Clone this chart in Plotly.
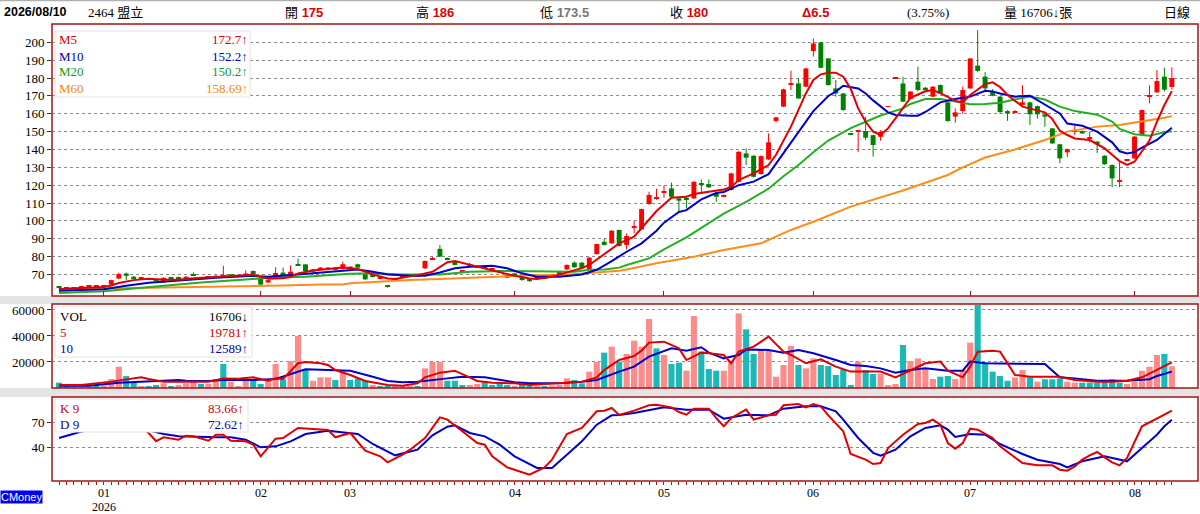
import plotly.graph_objects as go

W, H = 1200, 514

# ---------------------------------------------------------------- data
# one entry per trading day, 2025-12-24 .. 2026-08-10
OPEN = [62.6, 62.4, 62.2, 62.5, 63.0, 63.1, 63.0, 64.3, 67.7, 70.5,
        68.7, 67.5, 67.6, 67.2, 65.5, 68.0, 67.8, 67.2, 69.6, 67.9,
        68.0, 68.1, 68.6, 70.0, 68.7, 69.6, 71.9, 67.7, 65.5, 68.1,
        71.0, 69.7, 75.3, 75.6, 71.5, 72.5, 72.6, 73.8, 73.0, 73.0,
        75.7, 70.6, 68.8, 67.5, 63.1, 67.4, 68.1, 68.8, 70.0, 73.4,
        78.6, 84.3, 78.8, 77.2, 71.8, 75.6, 74.0, 73.4, 73.0, 71.0,
        69.6, 70.6, 68.1, 67.7, 67.8, 68.5, 69.5, 70.5, 72.8, 76.6,
        76.6, 72.8, 81.4, 88.3, 87.4, 94.9, 86.5, 96.5, 95.2, 109.4,
        112.4, 115.8, 118.2, 112.6, 112.6, 112.6, 120.8, 120.6, 115.4, 113.5,
        117.3, 121.9, 137.8, 136.5, 126.2, 134.4, 156.0, 164.0, 176.5, 177.0,
        175.2, 195.1, 200.0, 191.0, 174.2, 171.4, 148.8, 150.2, 150.3, 148.0,
        147.1, 163.8, 179.6, 177.0, 168.3, 178.0, 174.6, 169.6, 176.1, 166.4,
        158.4, 161.5, 174.2, 187.0, 180.8, 172.7, 169.6, 161.5, 160.8, 165.0,
        166.4, 164.3, 159.7, 151.8, 142.9, 138.4, 150.3, 150.3, 146.4, 144.4,
        136.5, 131.3, 122.0, 133.9, 135.0, 148.1, 169.6, 172.0, 180.8, 175.0]
HIGH = [63.2, 62.8, 62.7, 63.6, 63.8, 63.6, 63.8, 67.0, 71.0, 71.0,
        69.0, 68.0, 67.9, 67.5, 68.3, 68.3, 68.7, 69.0, 71.1, 68.5,
        68.6, 69.6, 74.9, 70.3, 69.9, 72.3, 72.2, 68.0, 67.0, 74.0,
        73.8, 75.0, 78.9, 75.9, 73.0, 74.0, 74.1, 74.1, 77.1, 74.6,
        76.0, 70.9, 69.5, 68.8, 64.0, 68.2, 69.4, 69.8, 70.3, 77.8,
        79.8, 86.5, 79.5, 77.5, 72.5, 76.5, 74.6, 74.0, 73.6, 72.6,
        69.9, 70.9, 68.4, 68.0, 68.6, 68.8, 70.4, 71.0, 75.6, 77.3,
        76.9, 79.8, 87.3, 90.0, 94.8, 95.2, 93.0, 100.0, 106.9, 116.3,
        118.0, 119.7, 121.4, 113.0, 113.5, 122.2, 123.2, 123.2, 115.7, 114.8,
        126.9, 139.0, 140.6, 136.8, 136.6, 149.0, 158.3, 174.0, 184.1, 179.8,
        185.7, 202.2, 200.3, 191.3, 178.9, 171.7, 149.2, 150.6, 158.4, 148.3,
        150.8, 164.3, 180.1, 180.8, 172.7, 186.4, 175.0, 175.5, 176.4, 166.7,
        163.0, 175.2, 191.3, 206.9, 183.3, 173.8, 170.0, 162.0, 162.0, 176.0,
        166.8, 164.6, 160.1, 152.1, 143.2, 140.5, 153.2, 150.6, 150.0, 144.7,
        136.8, 131.6, 134.0, 134.7, 147.5, 162.4, 176.0, 184.5, 185.8, 186.0]
LOW = [62.0, 61.9, 61.9, 62.3, 62.8, 62.8, 62.8, 64.0, 67.3, 66.8,
       67.2, 67.2, 66.9, 66.6, 65.3, 67.4, 67.5, 67.0, 69.3, 67.6,
       67.8, 67.9, 68.4, 68.8, 68.4, 69.3, 69.8, 64.0, 65.2, 67.8,
       69.5, 69.5, 74.8, 71.7, 71.2, 72.2, 72.3, 72.3, 72.8, 72.8,
       73.5, 67.0, 68.3, 67.2, 62.5, 67.1, 67.9, 68.5, 68.6, 73.1,
       78.2, 79.6, 78.0, 75.0, 71.5, 74.0, 73.8, 73.1, 72.8, 70.8,
       67.8, 69.0, 66.5, 65.9, 67.5, 67.6, 69.2, 70.0, 72.5, 73.7,
       73.2, 72.5, 81.1, 86.2, 87.1, 85.6, 84.0, 93.0, 94.9, 109.1,
       111.8, 113.0, 113.2, 105.0, 107.0, 112.3, 115.4, 118.5, 110.7, 113.2,
       117.0, 121.6, 131.3, 124.4, 125.9, 134.1, 155.0, 163.7, 173.3, 168.3,
       174.9, 192.0, 185.5, 175.8, 169.6, 161.6, 148.3, 138.7, 145.3, 136.0,
       144.9, 163.6, 179.4, 166.5, 168.0, 172.5, 173.0, 169.3, 171.1, 155.6,
       155.0, 160.0, 173.9, 183.5, 172.6, 169.8, 160.0, 156.0, 160.5, 164.6,
       153.7, 157.3, 152.7, 143.1, 132.2, 135.8, 148.0, 148.7, 144.0, 138.0,
       131.4, 118.8, 118.8, 133.2, 134.7, 147.8, 165.8, 171.7, 172.5, 173.5]
CLOSE = [62.5, 62.3, 62.5, 63.3, 63.4, 63.3, 63.5, 66.8, 70.2, 69.2,
         67.4, 67.7, 67.2, 66.8, 68.1, 67.6, 67.7, 68.7, 69.5, 68.1,
         68.3, 69.2, 68.8, 69.0, 69.6, 70.5, 70.0, 64.3, 66.8, 70.8,
         69.7, 71.5, 75.0, 71.9, 72.8, 73.8, 73.8, 72.5, 75.7, 74.3,
         73.8, 67.2, 68.7, 68.3, 63.0, 68.0, 69.1, 69.6, 68.8, 77.5,
         79.0, 80.0, 78.5, 75.3, 72.0, 74.3, 74.3, 73.8, 73.4, 72.4,
         68.1, 69.3, 66.8, 66.2, 68.4, 67.8, 70.1, 70.6, 75.3, 74.0,
         73.4, 79.4, 87.0, 86.5, 94.5, 85.9, 91.5, 96.7, 106.6, 114.5,
         112.6, 116.0, 113.5, 111.3, 111.8, 121.9, 120.6, 118.8, 113.5, 114.5,
         126.6, 138.7, 135.4, 124.7, 136.3, 144.0, 158.0, 173.7, 177.0, 168.6,
         185.4, 199.4, 185.8, 176.1, 171.4, 162.1, 148.6, 150.4, 146.6, 142.5,
         149.9, 164.0, 179.8, 166.8, 172.4, 173.3, 173.3, 175.2, 171.4, 155.9,
         160.8, 173.3, 191.0, 184.0, 174.2, 170.1, 161.0, 160.2, 161.5, 166.4,
         159.7, 159.7, 158.4, 143.4, 135.0, 140.2, 151.0, 149.0, 146.6, 142.9,
         131.7, 123.8, 122.9, 134.1, 147.2, 162.1, 170.5, 178.3, 173.5, 180.0]
VOLUME = [4100, 1800, 1500, 2000, 1800, 2000, 2000, 6900, 16400, 9200,
          4900, 1500, 1500, 2300, 3600, 1500, 2300, 3600, 6200, 3100,
          3100, 6700, 18500, 4900, 1500, 8200, 6200, 3100, 6200, 18500,
          6700, 20800, 40000, 14400, 5600, 8200, 8200, 6200, 12600, 6200,
          7400, 5600, 2300, 1500, 1500, 1500, 1500, 1800, 1500, 15100,
          20000, 20000, 5600, 5600, 2300, 2300, 3100, 4900, 2300, 3100,
          2300, 1500, 3100, 1500, 1500, 1500, 2000, 2500, 7400, 6200,
          3600, 12600, 20000, 27200, 31800, 20300, 26200, 36400, 31800, 53100,
          30500, 25400, 18500, 19500, 13300, 55400, 28000, 14600, 13300, 13300,
          21000, 57400, 45100, 26200, 29200, 28700, 8700, 17700, 32300, 17700,
          15100, 22800, 17700, 16900, 10000, 14400, 2300, 20300, 13800, 10800,
          10800, 2300, 3100, 33100, 20800, 22800, 15100, 6900, 8700, 9200,
          6900, 13800, 34900, 63800, 19500, 12600, 9200, 5600, 8200, 13800,
          8200, 4900, 6700, 6700, 7400, 4900, 4100, 4100, 4100, 4100,
          4900, 6700, 4100, 3100, 4900, 13300, 16400, 25400, 26200, 16706]

# trading-day index where each month starts, and its label
MONTH_START = [6, 27, 39, 61, 81, 101, 122, 144]
MONTH_LABEL = ["01", "02", "03", "04", "05", "06", "07", "08"]
YEAR_LABEL = "2026"

# moving averages (day index, value)
MA5_DAY = [0, 3, 6, 7, 8, 10, 12, 14, 16, 18, 20, 22, 24, 26, 27, 28, 30, 31, 32, 34,
           36, 38, 40, 42, 44, 45, 47, 48, 50, 51, 52, 53, 55, 57, 59, 61, 63, 64, 66, 68,
           70, 71, 73, 75, 77, 78, 79, 80, 82, 84, 85, 87, 89, 90, 91, 93, 95, 96, 98, 100,
           101, 102, 103, 104, 105, 106, 107, 108, 109, 110, 111, 112, 113, 114, 116, 117, 118, 120, 121, 122,
           124, 125, 126, 127, 129, 131, 132, 133, 134, 135, 136, 138, 140, 141, 142, 143, 144, 145, 146, 147,
           148, 149]
MA5 = [61.8, 62.3, 63.0, 63.8, 65.2, 66.8, 67.6, 67.0, 67.0, 67.8, 68.3, 68.6, 69.0, 69.8, 68.7, 67.6, 67.8, 68.6, 70.5, 72.2,
       73.0, 73.8, 73.0, 70.0, 67.7, 67.4, 68.9, 69.6, 71.5, 74.3, 76.8, 77.5, 75.5, 73.4, 71.5, 69.2, 67.7, 67.4, 68.7, 71.1,
       73.5, 75.3, 81.4, 87.4, 91.1, 96.0, 100.5, 105.5, 113.0, 113.5, 115.0, 116.3, 117.6, 119.0, 122.9, 126.6, 131.3, 137.0, 152.8, 171.4,
       178.9, 182.1, 183.0, 183.0, 180.8, 174.0, 163.0, 155.5, 150.0, 148.1, 151.8, 157.4, 163.0, 169.0, 172.6, 173.3, 171.6, 167.2, 166.4, 170.5,
       176.6, 177.6, 175.0, 170.5, 164.0, 162.1, 160.8, 157.0, 150.5, 148.1, 146.2, 145.3, 140.6, 137.0, 133.5, 131.3, 133.1, 139.0, 145.0, 155.5,
       164.9, 172.7]
MA10_DAY = [0, 6, 9, 12, 17, 21, 26, 28, 32, 37, 39, 40, 42, 44, 47, 49, 51, 53, 55, 58,
            60, 62, 64, 67, 70, 72, 74, 76, 78, 80, 81, 83, 84, 86, 88, 89, 91, 93, 95, 97,
            99, 101, 103, 104, 105, 107, 108, 109, 111, 112, 114, 115, 116, 118, 120, 122, 124, 125, 126, 128,
            130, 132, 134, 135, 137, 139, 141, 142, 143, 144, 145, 147, 148, 149]
MA10 = [60.8, 61.7, 63.6, 65.3, 66.8, 68.1, 69.2, 68.7, 70.0, 71.5, 72.5, 72.8, 71.5, 70.0, 69.2, 69.2, 71.1, 73.4, 74.3, 74.9,
        73.4, 70.6, 68.7, 68.7, 70.0, 72.6, 77.5, 82.7, 87.4, 94.5, 99.0, 105.0, 106.0, 112.0, 115.6, 116.2, 120.0, 122.0, 126.2, 137.8,
        149.5, 161.5, 170.0, 172.4, 175.7, 174.2, 171.4, 167.5, 160.8, 159.3, 158.9, 158.9, 161.0, 166.4, 168.3, 169.6, 172.9, 172.5, 171.4, 169.6,
        170.1, 165.0, 160.2, 154.5, 153.3, 150.0, 144.0, 139.0, 137.8, 138.5, 141.0, 145.3, 149.0, 152.2]
MA20_DAY = [0, 6, 10, 15, 19, 24, 28, 33, 39, 42, 46, 51, 55, 60, 64, 69, 71, 73, 75, 76,
            79, 81, 84, 87, 89, 92, 95, 97, 99, 101, 103, 106, 108, 110, 113, 114, 116, 118, 120, 122,
            124, 126, 128, 130, 132, 134, 136, 139, 141, 142, 144, 146, 148, 149]
MA20 = [59.6, 60.6, 62.1, 64.0, 65.5, 66.8, 68.1, 68.7, 70.4, 70.6, 70.0, 70.0, 71.5, 71.9, 71.9, 71.5, 72.6, 72.8, 73.8, 75.3,
        79.0, 84.0, 90.8, 99.0, 104.0, 110.7, 118.0, 125.0, 131.3, 138.5, 145.0, 152.0, 155.6, 159.0, 163.0, 165.5, 168.3, 168.3, 166.8, 165.3,
        165.5, 166.2, 168.0, 169.6, 168.0, 164.0, 161.5, 159.5, 155.6, 151.5, 148.5, 147.7, 149.6, 150.2]
MA60_DAY = [0, 6, 12, 19, 26, 30, 35, 38, 39, 42, 47, 51, 55, 60, 64, 67, 69, 72, 75, 76,
            80, 85, 89, 94, 96, 98, 101, 103, 106, 113, 119, 121, 124, 128, 132, 135, 139, 142, 145, 148,
            149]
MA60 = [61.7, 62.1, 62.5, 62.8, 63.2, 63.8, 64.3, 64.3, 65.0, 65.8, 66.8, 67.4, 68.1, 68.7, 69.6, 69.5, 70.2, 71.0, 72.0, 72.8,
        76.2, 79.9, 83.7, 87.4, 91.1, 94.9, 99.5, 103.0, 108.0, 117.0, 125.7, 130.0, 135.5, 140.0, 145.3, 150.0, 152.8, 153.7, 155.6, 157.8,
        158.69]

# volume moving averages
VMA5_DAY = [0, 3, 7, 10, 11, 12, 14, 17, 20, 22, 24, 26, 28, 29, 30, 32, 33, 35, 36, 37,
            39, 41, 44, 46, 48, 49, 51, 53, 54, 56, 58, 61, 63, 67, 70, 72, 73, 75, 77, 78,
            79, 81, 83, 84, 86, 87, 89, 90, 91, 93, 95, 97, 98, 100, 102, 104, 106, 108, 110, 112,
            114, 116, 118, 119, 121, 122, 123, 125, 126, 128, 130, 132, 134, 136, 139, 141, 143, 145, 147, 149]
VMA5 = [2300, 2300, 4900, 7400, 8200, 6900, 4900, 4900, 4900, 7400, 7200, 8200, 5600, 7400, 6900, 19000, 20000, 19000, 17700, 13800,
        10000, 5400, 2300, 1800, 3600, 8200, 11800, 13300, 10800, 5400, 4100, 3600, 2300, 3600, 4900, 8200, 13800, 21500, 24600, 28700,
        34900, 35600, 30500, 21500, 27200, 26700, 25400, 19000, 28000, 31800, 39500, 28000, 25400, 19000, 22000, 16400, 12600, 12600, 12600, 8200,
        13800, 19000, 20300, 13300, 8200, 16400, 27900, 28700, 28000, 10000, 8700, 8700, 8700, 6200, 4900, 4900, 5600, 8200, 13800, 19781]
VMA10_DAY = [0, 4, 8, 11, 14, 16, 17, 20, 22, 26, 29, 31, 33, 36, 39, 42, 44, 46, 48, 52,
             54, 57, 61, 63, 67, 70, 72, 75, 77, 79, 82, 84, 86, 87, 89, 91, 92, 95, 97, 99,
             101, 104, 106, 108, 110, 112, 114, 116, 119, 121, 122, 124, 127, 129, 132, 134, 136, 139, 141, 143,
             146, 147, 149]
VMA10 = [1800, 1800, 4100, 4900, 5400, 6200, 5600, 5400, 6200, 6200, 6900, 10800, 14400, 13800, 13300, 8700, 5400, 4400, 4900, 7400,
         8700, 8200, 4400, 3600, 3600, 4900, 6200, 12600, 16400, 24100, 30500, 28700, 31300, 27200, 22800, 25400, 29700, 29200, 27200, 29200,
         26700, 21500, 17700, 16900, 15100, 11800, 13800, 15100, 13300, 13300, 20300, 19000, 19000, 19000, 18500, 8200, 7400, 5600, 5600, 5600,
         6700, 9200, 12589]

# KD(9)
K_DAY = [0, 4, 8, 11, 12, 13, 14, 16, 17, 18, 20, 21, 22, 23, 25, 26, 27, 29, 30, 32,
         34, 36, 37, 39, 41, 43, 44, 46, 47, 49, 51, 52, 54, 56, 57, 58, 60, 63, 65, 66,
         68, 70, 72, 73, 74, 75, 77, 79, 80, 82, 83, 84, 85, 87, 88, 89, 90, 92, 93, 95,
         96, 97, 99, 100, 101, 102, 103, 105, 106, 108, 109, 110, 111, 113, 115, 116, 117, 118, 119, 120,
         121, 122, 123, 125, 126, 128, 129, 131, 133, 134, 135, 136, 137, 138, 139, 140, 141, 142, 143, 145,
         147, 148, 149]
K9 = [64, 78, 80, 64, 56.8, 47.0, 51.6, 48.8, 53.6, 52.8, 47.6, 54.8, 54.8, 47.6, 46.8, 42.8, 28.8, 50.0, 50.8, 62.8,
      61.6, 60.4, 51.6, 56.8, 35.6, 28.8, 21.6, 30.8, 36.8, 50.8, 75.6, 72.8, 58.8, 44.8, 42.8, 28.8, 15.6, 6.8, 15.6, 24.8,
      55.6, 62.8, 82.8, 83.6, 86.8, 78.5, 83.6, 90.0, 90.8, 87.6, 82.0, 78.8, 86.0, 86.0, 74.8, 64.8, 74.8, 84.8, 72.8, 78.0,
      78.8, 90.0, 91.6, 87.6, 91.6, 88.8, 78.0, 58.8, 31.6, 24.8, 19.6, 20.8, 38.8, 54.8, 67.6, 68.8, 72.8, 66.8, 44.8, 38.0,
      44.8, 62.0, 60.8, 50.8, 40.8, 26.8, 20.8, 18.0, 18.0, 12.8, 11.6, 16.8, 24.8, 30.0, 34.0, 27.6, 21.6, 18.0, 26.8, 64.8,
      74.8, 78.8, 83.66]
D_DAY = [0, 2, 3, 6, 9, 12, 14, 16, 19, 21, 23, 25, 27, 29, 31, 33, 36, 39, 40, 42,
         44, 45, 48, 50, 52, 53, 55, 57, 59, 61, 64, 66, 68, 70, 72, 74, 75, 77, 81, 84,
         87, 89, 92, 95, 97, 100, 102, 104, 105, 107, 109, 110, 112, 114, 116, 118, 119, 120, 122, 124,
         126, 129, 131, 134, 135, 137, 140, 142, 143, 145, 147, 148, 149]
D9 = [50.8, 55.5, 58.5, 64, 66, 60, 55.6, 52.8, 51.6, 51.6, 51.6, 48.8, 39.6, 40.8, 46.8, 55.6, 59.6, 56.8, 55.6, 43.6,
      34.8, 30.0, 36.8, 54.0, 64.4, 66.0, 56.8, 52.8, 42.8, 28.8, 14.8, 14.8, 30.8, 46.8, 66.8, 78.0, 78.5, 80.8, 87.6, 84.8,
      84.8, 74.0, 78.8, 78.0, 86.0, 88.8, 88.8, 82.8, 72.8, 50.8, 33.0, 29.5, 36.8, 52.8, 62.8, 66.0, 60.8, 52.0, 55.6, 54.8,
      43.6, 31.6, 24.8, 19.6, 15.6, 22.8, 28.8, 24.8, 22.8, 38.8, 54.8, 64.8, 72.62]

# ---------------------------------------------------------------- style
BORDER = "#a31515"
RED, GREEN = "#ff0000", "#008000"
VOL_UP, VOL_DN = "#ff8a8a", "#1cb8b8"
C_MA5, C_MA10, C_MA20, C_MA60 = "#e00000", "#0000cc", "#22b022", "#ff8c1a"
SERIF = "Liberation Serif, Noto Sans CJK TC, serif"
SANS = "Liberation Sans, Noto Sans CJK TC, sans-serif"

X_DOM = [52 / W, 1198 / W]
PRICE_PX, VOL_PX, KD_PX = (24, 296), (304, 388), (397, 481)


def ydom(px):
    return [1 - px[1] / H, 1 - px[0] / H]


def py(y):
    return 1 - y / H


DAYS = list(range(len(CLOSE)))
up = [c >= o for o, c in zip(OPEN, CLOSE)]

fig = go.Figure()

# --- candles: wicks then bodies
for flag, color in ((True, RED), (False, GREEN)):
    wx, wy = [], []
    for i in DAYS:
        if up[i] == flag:
            wx += [i, i, None]
            wy += [LOW[i], HIGH[i], None]
    fig.add_trace(go.Scatter(x=wx, y=wy, mode="lines", line=dict(color=color, width=1),
                             hoverinfo="skip", xaxis="x", yaxis="y"))

fig.add_trace(go.Bar(
    x=DAYS, base=[min(o, c) for o, c in zip(OPEN, CLOSE)],
    y=[max(abs(c - o), 0.55) for o, c in zip(OPEN, CLOSE)],
    width=0.66, marker=dict(color=[RED if u else GREEN for u in up], line=dict(width=0)),
    xaxis="x", yaxis="y", hoverinfo="skip"))

for xs, ys, color in ((MA60_DAY, MA60, C_MA60), (MA20_DAY, MA20, C_MA20),
                      (MA10_DAY, MA10, C_MA10), (MA5_DAY, MA5, C_MA5)):
    fig.add_trace(go.Scatter(x=xs, y=ys, mode="lines", line=dict(color=color, width=2),
                             xaxis="x", yaxis="y"))

# --- volume
prev = [OPEN[0]] + CLOSE[:-1]
fig.add_trace(go.Bar(
    x=DAYS, y=VOLUME, width=0.82,
    marker=dict(color=[VOL_UP if c >= p else VOL_DN for c, p in zip(CLOSE, prev)], line=dict(width=0)),
    xaxis="x2", yaxis="y2"))
fig.add_trace(go.Scatter(x=VMA10_DAY, y=VMA10, mode="lines", line=dict(color=C_MA10, width=2),
                         xaxis="x2", yaxis="y2"))
fig.add_trace(go.Scatter(x=VMA5_DAY, y=VMA5, mode="lines", line=dict(color=C_MA5, width=2),
                         xaxis="x2", yaxis="y2"))

# --- KD
fig.add_trace(go.Scatter(x=D_DAY, y=D9, mode="lines", line=dict(color=C_MA10, width=2),
                         xaxis="x3", yaxis="y3"))
fig.add_trace(go.Scatter(x=K_DAY, y=K9, mode="lines", line=dict(color=C_MA5, width=2),
                         xaxis="x3", yaxis="y3"))

XR = [-0.94, 152.5]
ax_common = dict(domain=X_DOM, range=XR, showgrid=False, zeroline=False, showline=False,
                 fixedrange=True)
y_common = dict(showgrid=True, gridcolor="#8a8a8a", griddash="dot", gridwidth=1, zeroline=False,
                showline=False, ticks="outside", ticklen=4, tickcolor="#333",
                tickfont=dict(family=SERIF, size=13, color="#000"), fixedrange=True)

fig.update_layout(
    width=W, height=H, margin=dict(l=0, r=0, t=0, b=0),
    paper_bgcolor="white", plot_bgcolor="white", showlegend=False, hovermode=False,
    xaxis=dict(**ax_common, anchor="y", showticklabels=False, tickmode="array",
               tickvals=MONTH_START, ticks="inside", ticklen=5, tickcolor=BORDER),
    xaxis2=dict(**ax_common, anchor="y2", showticklabels=False, ticks=""),
    xaxis3=dict(**ax_common, anchor="y3", tickmode="array", tickvals=DAYS, showticklabels=False,
                ticks="outside", ticklen=3, tickcolor=BORDER),
    yaxis=dict(**y_common, domain=ydom(PRICE_PX), range=[57.9, 210.3],
               tickvals=list(range(70, 201, 10))),
    yaxis2=dict(**y_common, domain=ydom(VOL_PX), range=[0, 64600],
                tickvals=[20000, 40000, 60000], tickformat="d"),
    yaxis3=dict(**y_common, domain=ydom(KD_PX), range=[-0.8, 100], tickvals=[40, 70]),
)

shapes = []
# grey separators between panels and top rule
for y0, y1 in ((296, 304), (388, 397)):
    shapes.append(dict(type="rect", xref="paper", yref="paper", x0=0, x1=1, y0=py(y1), y1=py(y0),
                       fillcolor="#e4e4e4", line=dict(width=0), layer="below"))
shapes.append(dict(type="line", xref="paper", yref="paper", x0=0, x1=1, y0=py(0.5), y1=py(0.5),
                   line=dict(color="#b0b0b0", width=1.5)))
# legend boxes (cover the lines under them)
for x0, x1, y0, y1 in ((55, 250, 31, 97), (55, 252, 307, 357), (55, 248, 399, 432)):
    shapes.append(dict(type="rect", xref="paper", yref="paper", x0=x0 / W, x1=x1 / W,
                       y0=py(y1), y1=py(y0), fillcolor="white",
                       line=dict(color="#e2e2e2", width=1), layer="above"))
# panel borders
for p in (PRICE_PX, VOL_PX, KD_PX):
    shapes.append(dict(type="rect", xref="paper", yref="paper", x0=X_DOM[0], x1=X_DOM[1],
                       y0=py(p[1]), y1=py(p[0]), line=dict(color=BORDER, width=1.5),
                       fillcolor="rgba(0,0,0,0)", layer="above"))
fig.update_layout(shapes=shapes)

ann = []


def text(x, y, s, color="#000", size=13, family=SERIF, anchor="left"):
    ann.append(dict(x=x / W, y=py(y), xref="paper", yref="paper", text=s, showarrow=False,
                    xanchor=anchor, yanchor="middle", font=dict(family=family, size=size, color=color)))


def red(s):
    return f"<b><span style='color:#e00000'>{s}</span></b>"


# header quote line
text(2, 12, "<b>2026/08/10</b>", size=12.5, family=SANS)
text(86, 12, "2464 盟立")
text(283, 12, "開 " + red("175"), family=SANS)
text(414, 12, "高 " + red("186"), family=SANS)
text(538, 12, "低 <b><span style='color:#777'>173.5</span></b>", family=SANS)
text(668, 12, "收 " + red("180"), family=SANS)
text(800, 12, red("Δ6.5"), family=SANS)
text(905, 12, "(3.75%)")
text(1002, 12, "量 16706↓張")
text(1162, 12, "日線")

# price legend
for y, name, val, c in ((40, "M5", "172.7↑", "#d00000"), (56, "M10", "152.2↑", "#0000b0"),
                        (72, "M20", "150.2↑", "#139a13"), (88, "M60", "158.69↑", "#f08a10")):
    text(57, y, name, color=c)
    text(250, y, val, color=c, anchor="right")
# volume legend
for y, name, val, c in ((316, "VOL", "16706↓", "#000"), (332, "5", "19781↑", "#d00000"),
                        (348, "10", "12589↑", "#0000b0")):
    text(58, y, name, color=c)
    text(250, y, val, color=c, anchor="right")
# KD legend
for y, name, val, c in ((408, "K 9", "83.66↑", "#d00000"), (424, "D 9", "72.62↑", "#0000b0")):
    text(58, y, name, color=c)
    text(246, y, val, color=c, anchor="right")

# month labels under the KD panel
for d, lab in zip(MONTH_START, MONTH_LABEL):
    ann.append(dict(x=d, y=py(493), xref="x3", yref="paper", text=lab, showarrow=False,
                    xanchor="center", yanchor="middle", borderpad=0,
                    font=dict(family=SERIF, size=12, color="#000")))
ann.append(dict(x=MONTH_START[0], y=py(507), xref="x3", yref="paper", text=YEAR_LABEL, showarrow=False,
                xanchor="center", yanchor="middle", borderpad=0,
                font=dict(family=SERIF, size=12, color="#000")))

ann.append(dict(x=0, y=py(497), xref="paper", yref="paper", text="CMoney", showarrow=False,
                xanchor="left", yanchor="middle", bgcolor="#0000f0", borderpad=0,
                font=dict(family=SANS, size=11, color="white")))
fig.update_layout(annotations=ann)

fig.write_html("out.html", config={"displayModeBar": False},
               post_script="document.body.style.margin='0px';")
